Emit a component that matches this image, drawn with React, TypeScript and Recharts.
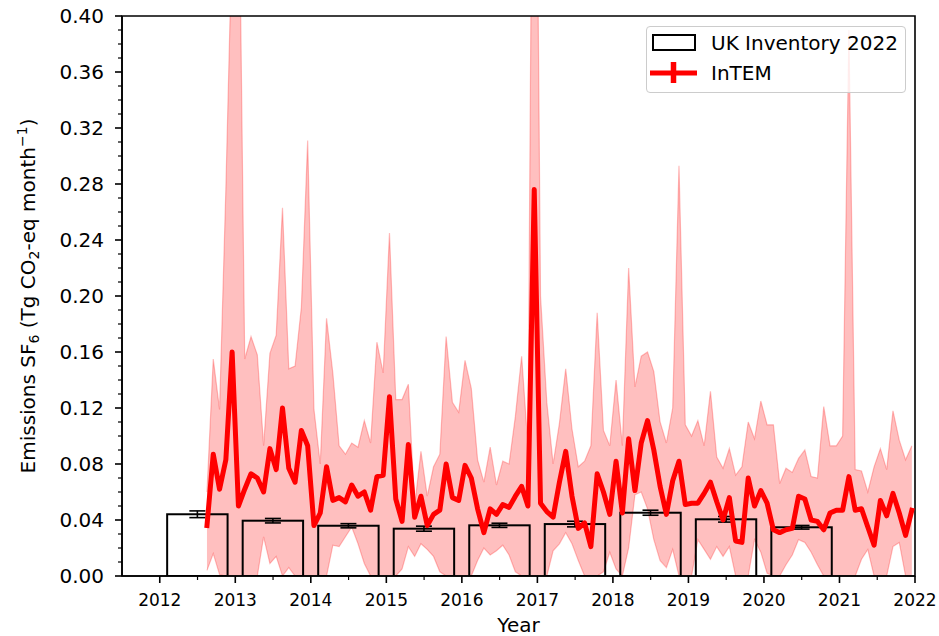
import { Area, Bar, ComposedChart, ErrorBar, Line, ReferenceArea, XAxis, YAxis } from "recharts"

const FONT = "DejaVu Sans"

// UK inventory, annual totals (Tg CO2-eq per month)
const inventoryYears = [2012, 2013, 2014, 2015, 2016, 2017, 2018, 2019, 2020]
const inventoryValues = [0.0441, 0.0395, 0.0359, 0.0338, 0.0362, 0.0371, 0.0452, 0.0405, 0.0348]
const inventoryErrors = [0.0024, 0.0016, 0.0015, 0.0018, 0.0015, 0.002, 0.0018, 0.002, 0.0013]

// InTEM monthly estimates, starting Aug 2012
const intemFirstYear = 2012
const intemFirstMonth = 8
const intemMean = [
    0.036, 0.087, 0.062, 0.083, 0.160, 0.050, 0.062, 0.073, 0.070, 0.060,
    0.091, 0.076, 0.120, 0.077, 0.067, 0.104, 0.093, 0.036, 0.045, 0.078,
    0.054, 0.056, 0.053, 0.065, 0.057, 0.060, 0.047, 0.071, 0.072, 0.128,
    0.055, 0.039, 0.094, 0.042, 0.057, 0.036, 0.044, 0.047, 0.080, 0.056,
    0.054, 0.079, 0.070, 0.048, 0.031, 0.048, 0.044, 0.051, 0.049, 0.057,
    0.064, 0.050, 0.276, 0.052, 0.046, 0.042, 0.067, 0.089, 0.057, 0.034,
    0.038, 0.021, 0.073, 0.060, 0.044, 0.082, 0.045, 0.098, 0.061, 0.095,
    0.111, 0.090, 0.064, 0.044, 0.068, 0.082, 0.051, 0.052, 0.052, 0.059,
    0.067, 0.053, 0.040, 0.056, 0.025, 0.024, 0.070, 0.050, 0.061, 0.052,
    0.033, 0.031, 0.033, 0.034, 0.057, 0.055, 0.040, 0.039, 0.033, 0.045,
    0.047, 0.047, 0.071, 0.047, 0.048, 0.035, 0.022, 0.054, 0.043, 0.059,
    0.045, 0.029, 0.047,
]
const intemUpper = [
    0.060, 0.155, 0.119, 0.276, 0.46, 0.54, 0.155, 0.171, 0.158, 0.093,
    0.159, 0.172, 0.263, 0.148, 0.150, 0.192, 0.311, 0.119, 0.080, 0.184,
    0.145, 0.093, 0.087, 0.095, 0.092, 0.111, 0.095, 0.167, 0.145, 0.245,
    0.126, 0.126, 0.137, 0.050, 0.089, 0.057, 0.078, 0.087, 0.171, 0.124,
    0.117, 0.154, 0.134, 0.083, 0.067, 0.092, 0.065, 0.082, 0.080, 0.114,
    0.157, 0.093, 0.75, 0.20, 0.124, 0.080, 0.109, 0.148, 0.105, 0.078,
    0.082, 0.093, 0.188, 0.104, 0.093, 0.140, 0.093, 0.220, 0.135, 0.157,
    0.160, 0.146, 0.110, 0.095, 0.120, 0.293, 0.108, 0.100, 0.111, 0.093,
    0.132, 0.085, 0.077, 0.091, 0.072, 0.078, 0.110, 0.098, 0.125, 0.108,
    0.108, 0.066, 0.077, 0.074, 0.084, 0.090, 0.071, 0.070, 0.121, 0.093,
    0.093, 0.100, 0.390, 0.076, 0.075, 0.060, 0.078, 0.091, 0.076, 0.118,
    0.097, 0.083, 0.093,
]
const intemLower = [
    0.004, 0.016, 0.001, 0, 0, 0, 0, 0, 0, 0.028,
    0.009, 0.014, 0, 0.006, 0, 0, 0, 0, 0, 0,
    0.022, 0.021, 0.028, 0.035, 0.023, 0.009, 0, 0, 0, 0,
    0, 0.005, 0.021, 0.014, 0.023, 0.019, 0.014, 0.003, 0, 0,
    0, 0, 0, 0.011, 0.020, 0.015, 0.018, 0.022, 0.015, 0.003,
    0, 0, 0, 0, 0, 0.018, 0.023, 0.031, 0.023, 0.011,
    0, 0, 0, 0.003, 0.017, 0.005, 0, 0.020, 0.058, 0.060,
    0.048, 0.026, 0.011, 0.006, 0.019, 0, 0, 0, 0.026, 0.019,
    0.012, 0.021, 0.014, 0.021, 0, 0, 0, 0.026, 0.017, 0.002,
    0, 0, 0.008, 0.015, 0.026, 0.024, 0.017, 0.008, 0, 0,
    0, 0, 0, 0, 0.012, 0.019, 0, 0, 0, 0.021,
    0.024, 0, 0,
]

// axis ticks: labelled years plus unlabelled half years / hundredths
const yearTicks = [2012, 2013, 2014, 2015, 2016, 2017, 2018, 2019, 2020, 2021, 2022]
const halfYearTicks = [2012.5, 2013.5, 2014.5, 2015.5, 2016.5, 2017.5, 2018.5, 2019.5, 2020.5, 2021.5]
const yLabelTicks = [0, 0.04, 0.08, 0.12, 0.16, 0.2, 0.24, 0.28, 0.32, 0.36, 0.4]
const yMinorTicks = Array.from({ length: 41 }, (_, i) => i / 100)

const xDomain: [number, number] = [2011.5, 2022]
const yDomain: [number, number] = [0, 0.4]

const width = 939
const height = 636
const margin = { top: 16, right: 24, bottom: 0, left: 0 }
const yAxisWidth = 122
const xAxisHeight = 60
const plotWidth = width - margin.left - margin.right - yAxisWidth
// inventory bars span 0.8 of a year
const barSize = (0.8 * plotWidth) / (xDomain[1] - xDomain[0])

const inventoryData = inventoryYears.map((year, i) => ({
    x: year + 0.5,
    value: inventoryValues[i],
    err: inventoryErrors[i],
}))

const intemData = intemMean.map((mean, i) => {
    const m = intemFirstMonth - 1 + i
    const year = intemFirstYear + Math.floor(m / 12)
    const month = (m % 12) + 1
    return { x: year + (month - 0.5) / 12, mean, band: [intemLower[i], intemUpper[i]] }
})

const xTicks = [...yearTicks, ...halfYearTicks].sort((a, b) => a - b)

function XTick({ x, y, payload }: any) {
    const major = yearTicks.includes(payload.value)
    return (
        <g>
            <line x1={x} x2={x} y1={y} y2={y + (major ? 7 : 4)} stroke="#000" strokeWidth={major ? 1.6 : 1.2} />
            {major && (
                <text x={x} y={y + 30} textAnchor="middle" fontFamily={FONT} fontSize={17} fill="#000">
                    {payload.value}
                </text>
            )}
        </g>
    )
}

function YTick({ x, y, payload }: any) {
    const major = yLabelTicks.some((t) => Math.abs(t - payload.value) < 1e-9)
    return (
        <g>
            <line x1={x - (major ? 7 : 4)} x2={x} y1={y} y2={y} stroke="#000" strokeWidth={major ? 1.6 : 1.2} />
            {major && (
                <text x={x - 18} y={y + 7} textAnchor="end" fontFamily={FONT} fontSize={20} fill="#000">
                    {payload.value.toFixed(2)}
                </text>
            )}
        </g>
    )
}

function XTitle({ viewBox }: any) {
    const vb = viewBox ?? { x: 122, y: 576, width: 793, height: 60 }
    return (
        <text x={vb.x + vb.width / 2} y={vb.y + 56} textAnchor="middle" fontFamily={FONT} fontSize={20} fill="#000">
            Year
        </text>
    )
}

function YTitle({ viewBox }: any) {
    const vb = viewBox ?? { x: 0, y: 16, width: 122, height: 560 }
    const cx = 35
    const cy = vb.y + vb.height / 2
    return (
        <text x={cx} y={cy} transform={`rotate(-90, ${cx}, ${cy})`} textAnchor="middle" fontFamily={FONT} fontSize={20} fill="#000">
            Emissions SF<tspan dy={4} fontSize={14}>6</tspan>
            <tspan dy={-4}> (Tg CO</tspan>
            <tspan dy={4} fontSize={14}>2</tspan>
            <tspan dy={-4}>-eq month</tspan>
            <tspan dy={-8} fontSize={14}>−1</tspan>
            <tspan dy={8}>)</tspan>
        </text>
    )
}

// outline-only bar, centred on the slot recharts gives it
function InventoryBar({ x, y, width: w, height: h }: any) {
    const cx = x + w / 2
    return <rect x={cx - barSize / 2} y={y} width={barSize} height={h} fill="none" stroke="#000" strokeWidth={2} />
}

function LegendBox() {
    return (
        <div
            style={{
                position: "absolute",
                left: 646,
                top: 26,
                width: 260,
                height: 67,
                boxSizing: "border-box",
                border: "1px solid #cccccc",
                borderRadius: 4,
                background: "rgba(255,255,255,0.8)",
            }}
        >
            <svg width={260} height={67} style={{ position: "absolute", left: -1, top: -1 }}>
                <rect x={7} y={9} width={42} height={15} fill="none" stroke="#000" strokeWidth={2} />
                <line x1={6.5} x2={48.5} y1={47} y2={47} stroke="red" strokeWidth={5} strokeLinecap="square" />
                <line x1={27.5} x2={27.5} y1={36} y2={57} stroke="red" strokeWidth={5.5} />
                <text x={65} y={23.5} fontFamily={FONT} fontSize={20} fill="#000">UK Inventory 2022</text>
                <text x={65} y={54} fontFamily={FONT} fontSize={20} fill="#000">InTEM</text>
            </svg>
        </div>
    )
}

export default function App() {
    return (
        <div style={{ position: "absolute", left: 0, top: 0, width, height, background: "#fff" }}>
            <ComposedChart width={width} height={height} data={inventoryData} margin={margin}>
                <XAxis
                    type="number"
                    dataKey="x"
                    domain={xDomain}
                    allowDataOverflow
                    ticks={xTicks}
                    interval={0}
                    tickLine={false}
                    tickSize={0}
                    tickMargin={0}
                    height={xAxisHeight}
                    axisLine={{ stroke: "#000", strokeWidth: 1.6 }}
                    tick={(props: any) => <XTick {...props} />}
                    label={(props: any) => <XTitle {...props} />}
                />
                <YAxis
                    type="number"
                    domain={yDomain}
                    allowDataOverflow
                    ticks={yMinorTicks}
                    interval={0}
                    tickLine={false}
                    tickSize={0}
                    tickMargin={0}
                    width={yAxisWidth}
                    axisLine={{ stroke: "#000", strokeWidth: 1.6 }}
                    tick={(props: any) => <YTick {...props} />}
                    label={(props: any) => <YTitle {...props} />}
                />
                <Area
                    data={intemData}
                    dataKey="band"
                    type="linear"
                    fill="red"
                    fillOpacity={0.25}
                    stroke="red"
                    strokeOpacity={0.25}
                    strokeWidth={1.2}
                    dot={false}
                    activeDot={false}
                    isAnimationActive={false}
                />
                <Bar dataKey="value" barSize={barSize} shape={(props: any) => <InventoryBar {...props} />} isAnimationActive={false}>
                    <ErrorBar dataKey="err" width={8} stroke="#000" strokeWidth={1.6} direction="y" />
                </Bar>
                <Line
                    data={intemData}
                    dataKey="mean"
                    type="linear"
                    stroke="red"
                    strokeWidth={5}
                    strokeLinejoin="round"
                    strokeLinecap="square"
                    dot={false}
                    activeDot={false}
                    isAnimationActive={false}
                />
                <ReferenceArea x1={xDomain[0]} x2={xDomain[1]} y1={yDomain[0]} y2={yDomain[1]} fill="none" stroke="#000" strokeWidth={1.6} />
            </ComposedChart>
            <LegendBox />
        </div>
    )
}
